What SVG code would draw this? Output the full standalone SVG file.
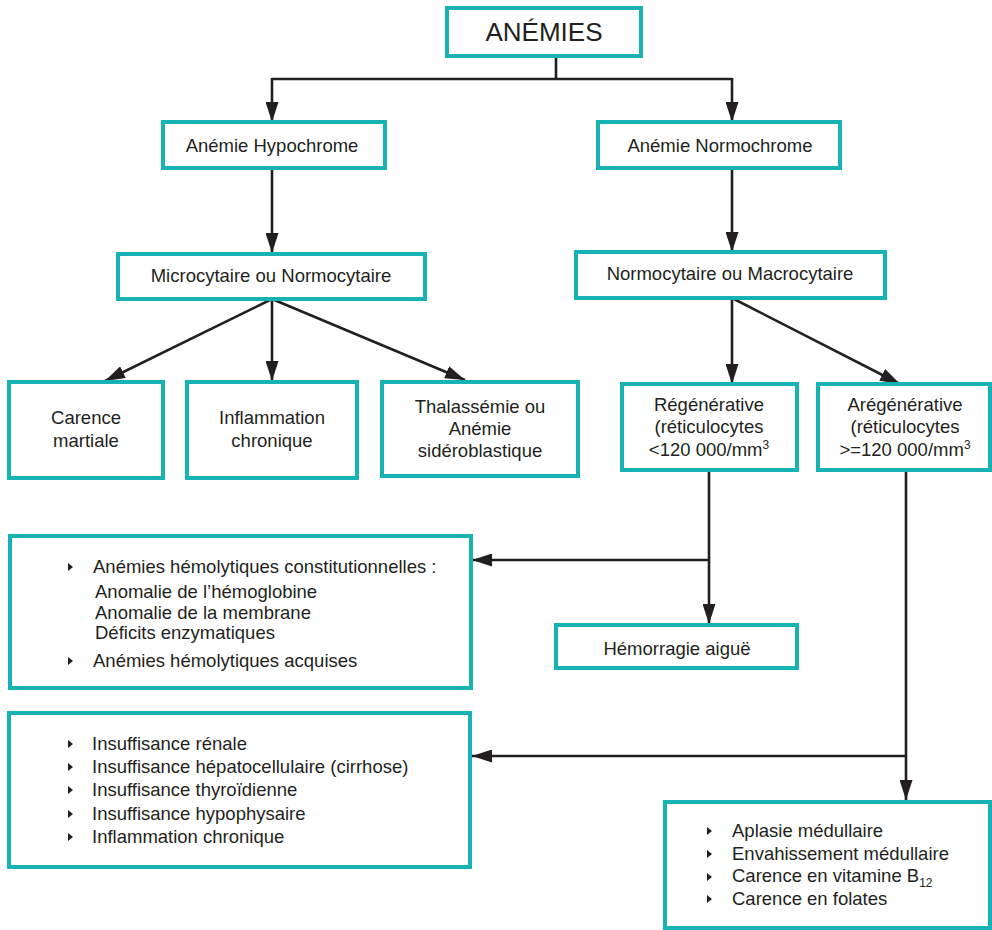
<svg xmlns="http://www.w3.org/2000/svg" width="992" height="930" viewBox="0 0 992 930">
  <style>
    .box { fill: #ffffff; stroke: #17b2b3; stroke-width: 4; }
    .t { font-family: "Liberation Sans", Arial, Helvetica, sans-serif; font-size: 18.5px; fill: #231f20; }
    .c { text-anchor: middle; }
    .title { font-size: 26px; }
    .sub { font-size: 12px; }
    .link { fill: none; stroke: #231f20; stroke-width: 2.6; }
    .bul { fill: #231f20; }
  </style>
  <defs>
    <marker id="arrow" markerUnits="userSpaceOnUse" markerWidth="20" markerHeight="13" refX="20" refY="6.5" orient="auto">
      <path d="M0,0 L20,6.5 L0,13 z" fill="#231f20"/>
    </marker>
    <path id="bullet" d="M0,-4 L5,0 L0,4 z"/>
  </defs>

  <rect width="992" height="930" fill="#ffffff"/>

  <!-- connectors -->
  <g id="connectors">
    <path class="link" d="M556,56 V79"/>
    <path class="link" d="M272,79 H732"/>
    <path class="link" d="M272,78 V122" marker-end="url(#arrow)"/>
    <path class="link" d="M732,78 V122" marker-end="url(#arrow)"/>
    <path class="link" d="M272,168 V253" marker-end="url(#arrow)"/>
    <path class="link" d="M732,168 V252" marker-end="url(#arrow)"/>
    <path class="link" d="M272,299 L105,381" marker-end="url(#arrow)"/>
    <path class="link" d="M272,299 V381" marker-end="url(#arrow)"/>
    <path class="link" d="M272,299 L465,380" marker-end="url(#arrow)"/>
    <path class="link" d="M732,298 V384" marker-end="url(#arrow)"/>
    <path class="link" d="M732,298 L900,384" marker-end="url(#arrow)"/>
    <path class="link" d="M709,470 V624" marker-end="url(#arrow)"/>
    <path class="link" d="M710,560 H472" marker-end="url(#arrow)"/>
    <path class="link" d="M906,470 V800" marker-end="url(#arrow)"/>
    <path class="link" d="M907,756 H472" marker-end="url(#arrow)"/>
  </g>

  <g id="anemies">
    <rect class="box" x="447" y="8" width="194" height="48"/>
    <text class="t c title" x="544" y="41">ANÉMIES</text>
  </g>

  <g id="hypochrome">
    <rect class="box" x="163" y="122" width="222" height="46"/>
    <text class="t c" x="272" y="152">Anémie Hypochrome</text>
  </g>

  <g id="normochrome">
    <rect class="box" x="598" y="122" width="242" height="46"/>
    <text class="t c" x="720" y="152">Anémie Normochrome</text>
  </g>

  <g id="microcytaire">
    <rect class="box" x="118" y="254" width="307" height="45"/>
    <text class="t c" x="271" y="282">Microcytaire ou Normocytaire</text>
  </g>

  <g id="macrocytaire">
    <rect class="box" x="576" y="252" width="309" height="46"/>
    <text class="t c" x="730" y="280">Normocytaire ou Macrocytaire</text>
  </g>

  <g id="carence-martiale">
    <rect class="box" x="9" y="382" width="154" height="96"/>
    <text class="t c" x="86" y="424">Carence</text>
    <text class="t c" x="86" y="447">martiale</text>
  </g>

  <g id="inflammation">
    <rect class="box" x="187" y="382" width="170" height="96"/>
    <text class="t c" x="272" y="424">Inflammation</text>
    <text class="t c" x="272" y="447">chronique</text>
  </g>

  <g id="thalassemie">
    <rect class="box" x="382" y="382" width="196" height="94"/>
    <text class="t c" x="480" y="413">Thalassémie ou</text>
    <text class="t c" x="480" y="435">Anémie</text>
    <text class="t c" x="480" y="457">sidéroblastique</text>
  </g>

  <g id="regenerative">
    <rect class="box" x="622" y="384" width="175" height="86"/>
    <text class="t c" x="709" y="411">Régénérative</text>
    <text class="t c" x="709" y="433">(réticulocytes</text>
    <text class="t c" x="709" y="456">&lt;120 000/mm<tspan class="sub" dy="-7">3</tspan></text>
  </g>

  <g id="aregenerative">
    <rect class="box" x="818" y="384" width="172" height="86"/>
    <text class="t c" x="905" y="411">Arégénérative</text>
    <text class="t c" x="905" y="433">(réticulocytes</text>
    <text class="t c" x="905" y="456">&gt;=120 000/mm<tspan class="sub" dy="-7">3</tspan></text>
  </g>

  <g id="hemolytiques">
    <rect class="box" x="10" y="536" width="461" height="152"/>
    <use href="#bullet" class="bul" x="68" y="567"/>
    <text class="t" x="93" y="573">Anémies hémolytiques constitutionnelles :</text>
    <text class="t" x="95" y="598">Anomalie de l’hémoglobine</text>
    <text class="t" x="95" y="619">Anomalie de la membrane</text>
    <text class="t" x="95" y="639">Déficits enzymatiques</text>
    <use href="#bullet" class="bul" x="68" y="661"/>
    <text class="t" x="93" y="667">Anémies hémolytiques acquises</text>
  </g>

  <g id="hemorragie">
    <rect class="box" x="556" y="625" width="241" height="43"/>
    <text class="t c" x="677" y="655">Hémorragie aiguë</text>
  </g>

  <g id="insuffisances">
    <rect class="box" x="9" y="713" width="461" height="154"/>
    <use href="#bullet" class="bul" x="68" y="744"/>
    <text class="t" x="92" y="750">Insuffisance rénale</text>
    <use href="#bullet" class="bul" x="68" y="767"/>
    <text class="t" x="92" y="773">Insuffisance hépatocellulaire (cirrhose)</text>
    <use href="#bullet" class="bul" x="68" y="790"/>
    <text class="t" x="92" y="796">Insuffisance thyroïdienne</text>
    <use href="#bullet" class="bul" x="68" y="814"/>
    <text class="t" x="92" y="820">Insuffisance hypophysaire</text>
    <use href="#bullet" class="bul" x="68" y="837"/>
    <text class="t" x="92" y="843">Inflammation chronique</text>
  </g>

  <g id="centrales">
    <rect class="box" x="665" y="802" width="325" height="126"/>
    <use href="#bullet" class="bul" x="707" y="831"/>
    <text class="t" x="732" y="837">Aplasie médullaire</text>
    <use href="#bullet" class="bul" x="707" y="854"/>
    <text class="t" x="732" y="860">Envahissement médullaire</text>
    <use href="#bullet" class="bul" x="707" y="877"/>
    <text class="t" x="732" y="882">Carence en vitamine B<tspan class="sub" dy="5">12</tspan></text>
    <use href="#bullet" class="bul" x="707" y="899"/>
    <text class="t" x="732" y="905">Carence en folates</text>
  </g>
</svg>
